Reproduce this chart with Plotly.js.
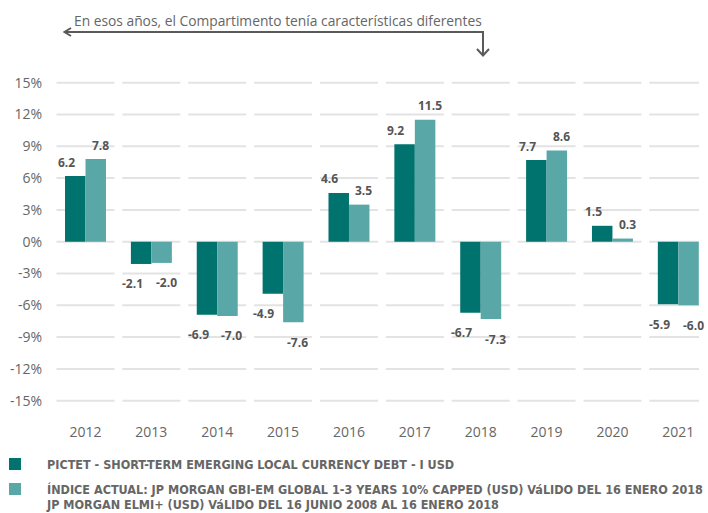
<!DOCTYPE html>
<html>
<head>
<meta charset="utf-8">
<script src="https://cdn.plot.ly/plotly-3.0.1.min.js"></script>
<style>html,body{margin:0;padding:0;background:#fff;}#chart{width:708px;height:513px;}</style>
</head>
<body>
<div id="chart"></div>
<script>
const years = ['2012','2013','2014','2015','2016','2017','2018','2019','2020','2021'];
const pictet = [6.2, -2.1, -6.9, -4.9, 4.6, 9.2, -6.7, 7.7, 1.5, -5.9];
const indice = [7.8, -2.0, -7.0, -7.6, 3.5, 11.5, -7.3, 8.6, 0.3, -6.0];
const yTickVals = [-15, -12, -9, -6, -3, 0, 3, 6, 9, 12, 15];
const yTickText = ['-15%', '-12%', '-9%', '-6%', '-3%', '0%', '3%', '6%', '9%', '12%', '15%'];
const nameFund = 'PICTET - SHORT-TERM EMERGING LOCAL CURRENCY DEBT - I USD';
const nameIdx1 = 'ÍNDICE ACTUAL: JP MORGAN GBI-EM GLOBAL 1-3 YEARS 10% CAPPED (USD) VáLIDO DEL 16 ENERO 2018';
const nameIdx2 = 'JP MORGAN ELMI+ (USD) VáLIDO DEL 16 JUNIO 2008 AL 16 ENERO 2018';
const noteText = 'En esos años, el Compartimento tenía características diferentes';

const DARK = '#00736e';
const LIGHT = '#5aa7a7';
const W = 708, H = 513;
const M = {l: 50, r: 9, t: 70, b: 93};
const PW = W - M.l - M.r, PH = H - M.t - M.b;
const px = x => (x - M.l) / PW;
const py = y => (H - M.b - y) / PH;

const traces = [
  {type: 'bar', x: years, y: pictet, name: nameFund, marker: {color: DARK}, hoverinfo: 'x+y'},
  {type: 'bar', x: years, y: indice, name: nameIdx1, marker: {color: LIGHT}, hoverinfo: 'x+y'}
];

const shapes = [];
// segmented gridlines per category
yTickVals.forEach(v => {
  years.forEach((yr, i) => {
    shapes.push({type: 'line', xref: 'x', yref: 'y', x0: i - 0.44, x1: i + 0.44, y0: v, y1: v,
      line: {color: '#e3e3e3', width: 2}, layer: 'below'});
  });
});
// arrow at top
const AC = '#5a5a5a';
shapes.push({type: 'path', xref: 'paper', yref: 'paper',
  path: `M${px(64)},${py(32)} L${px(483)},${py(32)} L${px(483)},${py(55)}`,
  line: {color: AC, width: 2}});
shapes.push({type: 'path', xref: 'paper', yref: 'paper',
  path: `M${px(71)},${py(28)} L${px(64.5)},${py(32)} L${px(71)},${py(36)}`,
  line: {color: AC, width: 2}});
shapes.push({type: 'path', xref: 'paper', yref: 'paper',
  path: `M${px(477)},${py(49)} L${px(483)},${py(55.5)} L${px(489)},${py(49)}`,
  line: {color: AC, width: 2}});
// legend squares
shapes.push({type: 'rect', xref: 'paper', yref: 'paper', x0: px(9), x1: px(21), y0: py(458), y1: py(470),
  fillcolor: DARK, line: {width: 0}});
shapes.push({type: 'rect', xref: 'paper', yref: 'paper', x0: px(9), x1: px(21), y0: py(483), y1: py(495),
  fillcolor: LIGHT, line: {width: 0}});

const annotations = [];
const labFont = {family: 'Open Sans, Liberation Sans, sans-serif', size: 12, color: '#555555', weight: 700};
function addLabels(vals, off, xs) {
  vals.forEach((v, i) => {
    annotations.push({xref: 'x', yref: 'y', x: i + off, y: v, text: '<b>' + v.toFixed(1) + '</b>',
      showarrow: false, xanchor: 'center', yanchor: 'middle', xshift: xs, yshift: v >= 0 ? 14 : -20,
      font: labFont});
  });
}
addLabels(pictet, -0.1555, -9);
addLabels(indice, 0.1555, 4.5);

annotations.push({xref: 'paper', yref: 'paper', x: px(71.5), y: py(20.5), xanchor: 'left', yanchor: 'middle',
  text: noteText, showarrow: false, font: {family: 'Open Sans, Liberation Sans, sans-serif', size: 13.8, color: '#666666'}});
const legFont = {family: 'Liberation Sans Narrow, DejaVu Sans Condensed, Arial Narrow, sans-serif', size: 12.5, color: '#666666'};
annotations.push({xref: 'paper', yref: 'paper', x: px(45), y: py(464), xanchor: 'left', yanchor: 'middle',
  text: '<b>' + nameFund + '</b>', showarrow: false, font: legFont});
annotations.push({xref: 'paper', yref: 'paper', x: px(45), y: py(489), xanchor: 'left', yanchor: 'middle',
  text: '<b>' + nameIdx1 + '</b>', showarrow: false, font: legFont});
annotations.push({xref: 'paper', yref: 'paper', x: px(45), y: py(513), xanchor: 'left', yanchor: 'bottom',
  borderpad: 0, text: '<b>' + nameIdx2 + '</b>', showarrow: false, font: legFont});

const layout = {
  width: W, height: H,
  margin: M,
  paper_bgcolor: '#ffffff', plot_bgcolor: '#ffffff',
  showlegend: false,
  barmode: 'group', bargap: 0.378, bargroupgap: 0,
  font: {family: 'Open Sans, Liberation Sans, sans-serif', color: '#666666'},
  xaxis: {type: 'category', range: [-0.539, 9.314], autorange: false, showgrid: false, zeroline: false,
    showline: false, ticks: '', tickfont: {size: 14, color: '#666666'}, ticklabelstandoff: 2, fixedrange: true},
  yaxis: {range: [-16.82, 16.2], autorange: false, showgrid: false, zeroline: false, showline: false,
    tickvals: yTickVals, ticktext: yTickText, ticks: '', tickfont: {size: 14, color: '#666666'},
    ticklabelstandoff: 7, fixedrange: true},
  shapes: shapes,
  annotations: annotations
};

Plotly.newPlot('chart', traces, layout, {displayModeBar: false, staticPlot: true});
</script>
</body>
</html>
